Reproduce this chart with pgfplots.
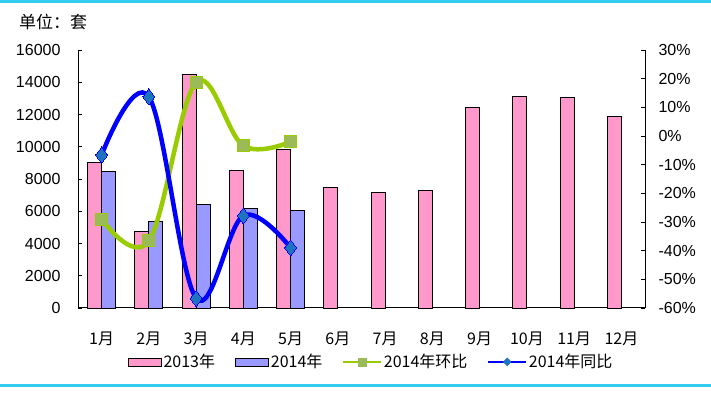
\documentclass[border=0pt]{standalone}
\usepackage{fontspec}
\setmainfont{Liberation Sans}
\newfontfamily\cjk{Noto Sans CJK SC}
\usepackage{pgfplots}
\pgfplotsset{compat=1.18}
\definecolor{pinkbar}{HTML}{FF99CC}
\definecolor{bluebar}{HTML}{9999FF}
\definecolor{greenline}{HTML}{99CC00}
\definecolor{greenmark}{HTML}{9BBB59}
\definecolor{blueline}{HTML}{0000FF}
\definecolor{bluemark}{HTML}{1E73BE}
\definecolor{cyanline}{HTML}{33CCEE}
\begin{document}
\begin{tikzpicture}[x=1pt,y=1pt]
\useasboundingbox (0,0) rectangle (711,398);
\fill[white] (0,0) rectangle (711,398);
\draw[cyanline, line width=3pt] (0,396) -- (711,396);
\draw[cyanline, line width=3pt] (0,12) -- (711,12);
\node[font=\cjk\fontsize{17}{20}\selectfont] at (53,376) {单位：套};
\begin{axis}[
  at={(78pt,90pt)}, anchor=south west, scale only axis,
  width=567pt, height=258pt,
  xmin=0.5, xmax=12.5, ymin=0, ymax=16000,
  axis y line*=left, axis x line*=bottom,
  axis line style={black, line width=1pt},
  ytick={0,2000,...,16000},
  scaled y ticks=false,
  /pgf/number format/1000 sep={},
  /pgf/number format/assume math mode=true,
  tick align=inside,
  major tick length=4pt,
  xtick={1,...,12},
  xticklabels={1月,2月,3月,4月,5月,6月,7月,8月,9月,10月,11月,12月},
  x tick style={draw=none},
  minor xtick={1.5,2.5,...,11.5},
  minor x tick style={black, line width=0.8pt},
  minor tick length=4pt,
  y tick style={black, line width=0.8pt},
  xticklabel style={font=\cjk\fontsize{16}{19}\selectfont, yshift=-16pt},
  yticklabel style={font=\fontsize{16}{19}\selectfont, xshift=-14pt},
  ybar=0pt, bar width=14pt,
  clip=false,
]
\addplot[fill=pinkbar, draw=black, line width=0.8pt] coordinates {
 (1,9050) (2,4750) (3,14500) (4,8550) (5,9850) (6,7500)
 (7,7150) (8,7300) (9,12450) (10,13100) (11,13050) (12,11900)};
\addplot[fill=bluebar, draw=black, line width=0.8pt] coordinates {
 (1,8450) (2,5350) (3,6400) (4,6200) (5,6050)};
\end{axis}
\begin{axis}[
  at={(78pt,90pt)}, anchor=south west, scale only axis,
  width=567pt, height=258pt,
  xmin=0.5, xmax=12.5, ymin=-60, ymax=30,
  axis y line*=right, axis x line=none,
  axis line style={black, line width=1pt},
  ytick={-60,-50,...,30},
  yticklabel={\pgfmathprintnumber{\tick}\%},
  /pgf/number format/assume math mode=true,
  tick align=inside, major tick length=4pt,
  y tick style={black, line width=0.8pt},
  yticklabel style={font=\fontsize{16}{19}\selectfont, xshift=10pt},
  legend columns=4,
  legend style={draw=none, fill=none, at={(0.517,-0.209)}, anchor=center,
    font=\cjk\fontsize{16}{19}\selectfont,
    /tikz/every even column/.append style={column sep=18pt}},
  clip=false,
]
\addlegendimage{legend image code/.code={\draw[fill=pinkbar, draw=black, line width=0.8pt] (0pt,-4pt) rectangle (33pt,4pt);}}
\addlegendentry{2013年}
\addlegendimage{legend image code/.code={\draw[fill=bluebar, draw=black, line width=0.8pt] (0pt,-4pt) rectangle (33pt,4pt);}}
\addlegendentry{2014年}
\addlegendimage{legend image code/.code={\draw[greenline, line width=1.5pt] (0pt,0pt) -- (38pt,0pt); \fill[greenmark] (15pt,-4pt) rectangle (23pt,4pt);}}
\addlegendentry{2014年环比}
\addlegendimage{legend image code/.code={\draw[blueline, line width=1.5pt] (0pt,0pt) -- (38pt,0pt); \fill[bluemark] (19pt,-4pt) -- (23pt,0pt) -- (19pt,4pt) -- (15pt,0pt) -- cycle;}}
\addlegendentry{2014年同比}
\addplot[greenline, line width=4.5pt, smooth, tension=0.6, mark=square*, mark size=6pt,
  mark options={fill=greenmark, draw=none, line width=0pt}, forget plot] coordinates {
 (1,-29) (2,-36.6) (3,18.7) (4,-3.4) (5,-2)};
\addplot[blueline, line width=4.5pt, smooth, tension=0.6, mark=diamond*, mark size=8pt,
  mark options={fill=bluemark, draw=none, line width=0pt}, forget plot] coordinates {
 (1,-6.6) (2,13.7) (3,-56.6) (4,-27.8) (5,-39)};
\end{axis}
\end{tikzpicture}
\end{document}
